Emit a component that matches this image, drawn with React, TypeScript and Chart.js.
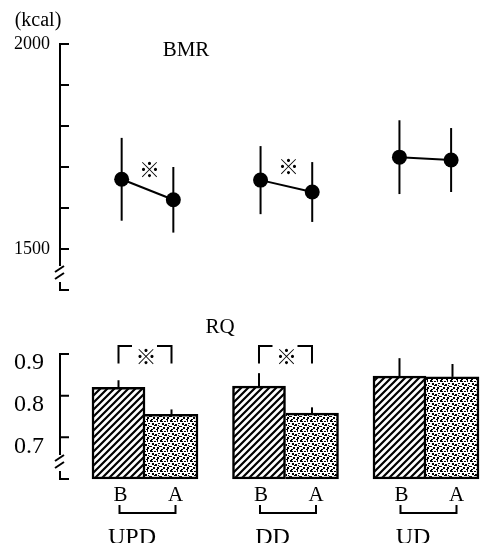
import React, { useEffect, useRef } from 'react';
import { Chart, registerables } from 'chart.js';

Chart.register(...registerables);

// ---------- data ----------
const groups = ['UPD', 'DD', 'UD'];
const phaseLabels = ['B', 'A'];

const bmrBefore = [1670, 1668, 1724];
const bmrAfter = [1620, 1639, 1717];
const bmrBeforeSD = [101, 83, 90];
const bmrAfterSD = [80, 73, 78];
const bmrTicks = [1500, 1600, 1700, 1800, 1900, 2000];
const bmrTickLabels = ['1500', '', '', '', '', '2000'];

const rqBefore = [0.82, 0.823, 0.847];
const rqAfter = [0.755, 0.758, 0.845];
const rqBeforeSD = [0.017, 0.031, 0.043];
const rqAfterSD = [0.012, 0.014, 0.031];
const rqTicks = [0.7, 0.8, 0.9];
const rqTickLabels = ['0.7', '0.8', '0.9'];

const significant = [true, true, false];

// ---------- styling / layout constants ----------
const SERIF = '"Liberation Serif", "Times New Roman", serif';
const MARK_FONT = '"Noto Sans CJK JP", "DejaVu Sans", sans-serif';
const PAIR_OFFSET = 0.186; // B/A spread in the BMR panel (x units)
const BMR_MIN = 1400;
const BMR_MAX = 2000;
const RQ_MIN = 0.6;
const RQ_MAX = 0.9;

function makeHatch(): CanvasPattern | string {
  const s = 7;
  const c = document.createElement('canvas');
  c.width = s;
  c.height = s;
  const g = c.getContext('2d');
  if (!g) return '#888';
  g.fillStyle = '#fff';
  g.fillRect(0, 0, s, s);
  g.strokeStyle = '#000';
  g.lineWidth = 2.2;
  g.beginPath();
  g.moveTo(-1, s + 1);
  g.lineTo(s + 1, -1);
  g.moveTo(-2, 2);
  g.lineTo(2, -2);
  g.moveTo(s - 2, s + 2);
  g.lineTo(s + 2, s - 2);
  g.stroke();
  return g.createPattern(c, 'repeat') || '#888';
}

function makeStipple(): CanvasPattern | string {
  const s = 10;
  const c = document.createElement('canvas');
  c.width = s;
  c.height = s;
  const g = c.getContext('2d');
  if (!g) return '#aaa';
  g.fillStyle = '#fff';
  g.fillRect(0, 0, s, s);
  g.fillStyle = '#000';
  const specks = [
    [0, 0, 2, 2], [4, 1, 2, 1], [7, 0, 1, 2], [2, 3, 2, 2], [5, 4, 2, 2],
    [8, 3, 2, 1], [0, 6, 2, 1], [3, 7, 2, 2], [7, 7, 2, 2], [9, 6, 1, 1],
    [1, 9, 2, 1], [6, 9, 2, 1], [4, 5, 1, 1], [8, 5, 1, 1], [2, 1, 1, 1],
  ];
  specks.forEach(([x, y, w, h]) => g.fillRect(x, y, w, h));
  return g.createPattern(c, 'repeat') || '#aaa';
}

function drawBrokenAxis(chart: any, tickValues: number[]) {
  const { ctx, chartArea } = chart;
  const y = chart.scales.y;
  const x = chartArea.left;
  const bottom = chartArea.bottom;
  const topPx = y.getPixelForValue(tickValues[tickValues.length - 1]);
  ctx.save();
  ctx.strokeStyle = '#000';
  ctx.lineWidth = 2;
  ctx.lineCap = 'butt';
  ctx.beginPath();
  ctx.moveTo(x, topPx - 1);
  ctx.lineTo(x, bottom - 24);
  ctx.moveTo(x - 5, bottom - 18);
  ctx.lineTo(x + 4, bottom - 24);
  ctx.moveTo(x - 5, bottom - 11);
  ctx.lineTo(x + 4, bottom - 17);
  ctx.moveTo(x, bottom - 8);
  ctx.lineTo(x, bottom);
  ctx.lineTo(x + 9, bottom);
  tickValues.forEach((v) => {
    const p = y.getPixelForValue(v);
    ctx.moveTo(x - 1, p);
    ctx.lineTo(x + 9, p);
  });
  ctx.stroke();
  ctx.restore();
}

const bmrPlugin = {
  id: 'bmrDecor',
  beforeDatasetsDraw(chart: any) {
    const { ctx } = chart;
    const y = chart.scales.y;
    ctx.save();
    ctx.strokeStyle = '#000';
    ctx.lineWidth = 2;
    chart.data.datasets.forEach((ds: any, di: number) => {
      const meta = chart.getDatasetMeta(di);
      meta.data.forEach((pt: any, j: number) => {
        const v = ds.data[j].y;
        const e = ds.errors[j];
        ctx.beginPath();
        ctx.moveTo(pt.x, y.getPixelForValue(v + e));
        ctx.lineTo(pt.x, y.getPixelForValue(v - e));
        ctx.stroke();
      });
    });
    ctx.restore();
  },
  afterDraw(chart: any) {
    const { ctx } = chart;
    const y = chart.scales.y;
    drawBrokenAxis(chart, bmrTicks);
    ctx.save();
    ctx.fillStyle = '#000';
    ctx.textAlign = 'center';
    ctx.textBaseline = 'middle';
    ctx.font = `20px ${SERIF}`;
    ctx.fillText('(kcal)', 38, 21);
    ctx.font = `21px ${SERIF}`;
    ctx.fillText('BMR', 186, 50);
    ctx.font = `bold 21px ${MARK_FONT}`;
    groups.forEach((_, i) => {
      if (!significant[i]) return;
      const meta = chart.getDatasetMeta(i);
      const cx = (meta.data[0].x + meta.data[1].x) / 2 + 2;
      const cy = y.getPixelForValue((bmrBefore[i] + bmrAfter[i]) / 2 + 50);
      ctx.fillText('※', cx, cy);
    });
    ctx.restore();
  },
};

const rqPlugin = {
  id: 'rqDecor',
  afterDraw(chart: any) {
    const { ctx, chartArea } = chart;
    const y = chart.scales.y;
    const x = chart.scales.x;
    drawBrokenAxis(chart, rqTicks);
    const metaB = chart.getDatasetMeta(0);
    const metaA = chart.getDatasetMeta(1);
    ctx.save();
    ctx.strokeStyle = '#000';
    ctx.fillStyle = '#000';
    ctx.lineWidth = 2;
    // error bars (upper only)
    chart.data.datasets.forEach((ds: any, di: number) => {
      const meta = chart.getDatasetMeta(di);
      meta.data.forEach((bar: any, j: number) => {
        const v = ds.data[j].y;
        ctx.beginPath();
        ctx.moveTo(bar.x, y.getPixelForValue(v));
        ctx.lineTo(bar.x, y.getPixelForValue(v + ds.errors[j]));
        ctx.stroke();
      });
    });
    // significance brackets
    groups.forEach((_, i) => {
      if (!significant[i]) return;
      const xb = metaB.data[i].x;
      const xa = metaA.data[i].x;
      const mid = (xb + xa) / 2;
      const topY = y.getPixelForValue(0.919);
      const legY = y.getPixelForValue(0.877);
      ctx.beginPath();
      ctx.moveTo(xb, legY);
      ctx.lineTo(xb, topY);
      ctx.lineTo(mid - 13, topY);
      ctx.moveTo(mid + 12, topY);
      ctx.lineTo(xa, topY);
      ctx.lineTo(xa, legY);
      ctx.stroke();
      ctx.font = `bold 21px ${MARK_FONT}`;
      ctx.textAlign = 'center';
      ctx.textBaseline = 'middle';
      ctx.fillText('※', mid + 1, topY + 10);
    });
    // B / A labels, group brackets and names
    const bottom = chartArea.bottom;
    groups.forEach((g, i) => {
      const xb = metaB.data[i].x;
      const xa = metaA.data[i].x;
      ctx.font = `21px ${SERIF}`;
      ctx.textAlign = 'center';
      ctx.textBaseline = 'middle';
      ctx.fillText(phaseLabels[0], xb + 2, bottom + 16);
      ctx.fillText(phaseLabels[1], xa + 4, bottom + 16);
      ctx.beginPath();
      ctx.moveTo(xb + 1, bottom + 26);
      ctx.lineTo(xb + 1, bottom + 34);
      ctx.lineTo(xa + 4, bottom + 34);
      ctx.lineTo(xa + 4, bottom + 26);
      ctx.stroke();
      ctx.font = `24px ${SERIF}`;
      ctx.textBaseline = 'alphabetic';
      ctx.fillText(g, x.getPixelForValue(i) - 13, bottom + 65);
    });
    ctx.font = `21px ${SERIF}`;
    ctx.textAlign = 'center';
    ctx.textBaseline = 'middle';
    ctx.fillText('RQ', 220, 27);
    ctx.restore();
  },
};

const fixYScale = (s: any) => {
  s.width = 60;
  s.paddingTop = 0;
  s.paddingBottom = 0;
};

export default function App() {
  const topRef = useRef<HTMLCanvasElement>(null);
  const botRef = useRef<HTMLCanvasElement>(null);

  useEffect(() => {
    if (!topRef.current || !botRef.current) return;
    const hatch = makeHatch();
    const stipple = makeStipple();

    const top = new Chart(topRef.current, {
      type: 'line',
      data: {
        datasets: groups.map((g, i) => ({
          label: g,
          data: [
            { x: i - PAIR_OFFSET, y: bmrBefore[i] },
            { x: i + PAIR_OFFSET, y: bmrAfter[i] },
          ],
          errors: [bmrBeforeSD[i], bmrAfterSD[i]],
          borderColor: '#000',
          backgroundColor: '#000',
          borderWidth: 2,
          pointRadius: 7.5,
          pointHoverRadius: 7.5,
          pointBackgroundColor: '#000',
          pointBorderWidth: 0,
          showLine: true,
          tension: 0,
          clip: false,
        })) as any,
      },
      options: {
        responsive: false,
        animation: false,
        events: [],
        layout: { autoPadding: false, padding: { top: 44, bottom: 10, left: 0, right: 0 } },
        plugins: { legend: { display: false }, tooltip: { enabled: false } },
        scales: {
          x: { type: 'linear', min: -0.63, max: 2.43, offset: false, display: false },
          y: {
            type: 'linear',
            min: BMR_MIN,
            max: BMR_MAX,
            afterFit: fixYScale,
            afterBuildTicks: (s: any) => { s.ticks = bmrTicks.map((v) => ({ value: v })); },
            ticks: {
              callback: (_v: any, idx: number) => bmrTickLabels[idx],
              font: { family: SERIF, size: 18 },
              color: '#000',
              padding: 10,
            },
            grid: { display: false, drawTicks: false },
            border: { display: false },
          },
        },
      } as any,
      plugins: [bmrPlugin],
    });

    const bot = new Chart(botRef.current, {
      type: 'bar',
      data: {
        datasets: [
          {
            label: phaseLabels[0],
            data: groups.map((_, i) => ({ x: i, y: rqBefore[i] })),
            errors: rqBeforeSD,
            backgroundColor: hatch,
            borderColor: '#000',
            borderWidth: { top: 2.5, right: 2.5, bottom: 2.5, left: 2.5 },
            borderSkipped: false,
            barThickness: 53,
            base: RQ_MIN,
            clip: false,
          },
          {
            label: phaseLabels[1],
            data: groups.map((_, i) => ({ x: i, y: rqAfter[i] })),
            errors: rqAfterSD,
            backgroundColor: stipple,
            borderColor: '#000',
            borderWidth: { top: 2.5, right: 2.5, bottom: 2.5, left: 0 },
            borderSkipped: false,
            barThickness: 53,
            base: RQ_MIN,
            clip: false,
          },
        ] as any,
      },
      options: {
        responsive: false,
        animation: false,
        events: [],
        layout: { autoPadding: false, padding: { top: 54, bottom: 64, left: 0, right: 0 } },
        plugins: { legend: { display: false }, tooltip: { enabled: false } },
        scales: {
          x: { type: 'linear', min: -0.605, max: 2.42, offset: false, display: false },
          y: {
            type: 'linear',
            min: RQ_MIN,
            max: RQ_MAX,
            afterFit: fixYScale,
            afterBuildTicks: (s: any) => { s.ticks = rqTicks.map((v) => ({ value: v })); },
            ticks: {
              callback: (_v: any, idx: number) => rqTickLabels[idx],
              font: { family: SERIF, size: 24 },
              color: '#000',
              padding: 16,
              labelOffset: 9,
            },
            grid: { display: false, drawTicks: false },
            border: { display: false },
          },
        },
      } as any,
      plugins: [rqPlugin],
    });

    return () => {
      top.destroy();
      bot.destroy();
    };
  }, []);

  return (
    <div
      style={{
        position: 'absolute',
        left: 0,
        top: 0,
        width: 485,
        height: 543,
        background: '#fff',
        overflow: 'hidden',
      }}
    >
      <canvas ref={topRef} width={485} height={300} style={{ position: 'absolute', left: 0, top: 0 }} />
      <canvas ref={botRef} width={485} height={243} style={{ position: 'absolute', left: 0, top: 300 }} />
    </div>
  );
}
